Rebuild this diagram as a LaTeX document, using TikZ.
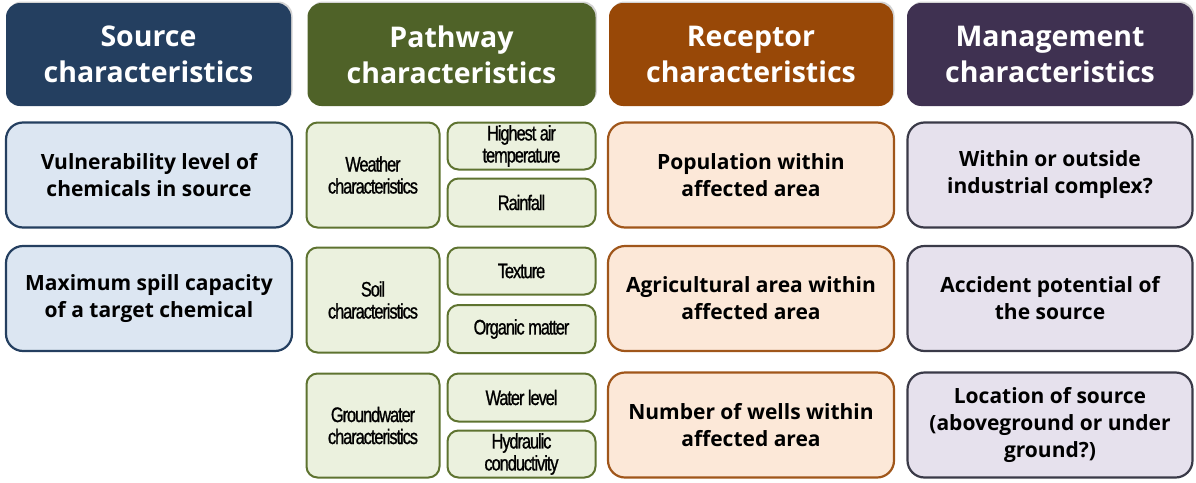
\documentclass[tikz,border=0pt]{standalone}
\usepackage{fontspec}
\setmainfont{Open Sans}
\newfontfamily\narrowfont[FakeStretch=0.78,LetterSpace=-5,FakeBold=1]{Liberation Sans}
\usetikzlibrary{shadows}
\definecolor{srcD}{HTML}{243F60}
\definecolor{srcL}{HTML}{DCE6F2}
\definecolor{pathD}{HTML}{4F6228}
\definecolor{pathB}{HTML}{5E7330}
\definecolor{pathL}{HTML}{EBF1DE}
\definecolor{recD}{HTML}{984807}
\definecolor{recB}{HTML}{A0561A}
\definecolor{recL}{HTML}{FCE8D8}
\definecolor{manD}{HTML}{3F3151}
\definecolor{manB}{HTML}{3A3A48}
\definecolor{manL}{HTML}{E6E1ED}
\tikzset{
  header/.style={rectangle, rounded corners=14pt, inner sep=0pt, align=center,
    text=white, font=\fontsize{28.5}{36}\selectfont\bfseries,
    drop shadow={shadow xshift=1.5pt, shadow yshift=1.5pt, opacity=0.35}},
  itembox/.style={rectangle, rounded corners=17pt, inner sep=0pt, align=center,
    line width=2.2pt, font=\fontsize{21}{27}\selectfont\bfseries},
  pbox/.style={rectangle, rounded corners=11pt, inner sep=0pt, align=center,
    line width=2pt, draw=pathB, fill=pathL, font=\narrowfont\fontsize{21}{22}\selectfont},
}
\begin{document}
\begin{tikzpicture}[x=1pt,y=-1pt]
\useasboundingbox (0,0) rectangle (1196,482);
% headers
\node[header, fill=srcD, minimum width=285pt, minimum height=103pt] (hs) at (148.5,54.5) {Source\\characteristics};
\node[header, fill=pathD, minimum width=288pt, minimum height=103pt] (hp) at (451.5,54.5) {Pathway\\characteristics};
\node[header, fill=recD, minimum width=284pt, minimum height=103pt] (hr) at (751,54.5) {Receptor\\characteristics};
\node[header, fill=manD, minimum width=286pt, minimum height=103pt] (hm) at (1050,54.5) {Management\\characteristics};
% source
\node[itembox, draw=srcD, fill=srcL, minimum width=286pt, minimum height=105pt] (s1) at (149,175) {Vulnerability level of\\chemicals in source};
\node[itembox, draw=srcD, fill=srcL, minimum width=286pt, minimum height=105pt] (s2) at (149,298.5) {Maximum spill capacity\\of a target chemical};
% receptor
\node[itembox, draw=recB, fill=recL, minimum width=286pt, minimum height=105pt] (r1) at (751,175) {Population within\\affected area};
\node[itembox, draw=recB, fill=recL, minimum width=286pt, minimum height=105pt] (r2) at (751,298.5) {Agricultural area within\\affected area};
\node[itembox, draw=recB, fill=recL, minimum width=286pt, minimum height=105pt] (r3) at (751,425) {Number of wells within\\affected area};
% management
\node[itembox, draw=manB, fill=manL, minimum width=285pt, minimum height=105pt] (m1) at (1050,175) {Within or outside\\industrial complex?};
\node[itembox, draw=manB, fill=manL, minimum width=285pt, minimum height=105pt] (m2) at (1050,298.5) {Accident potential of\\the source};
\node[itembox, draw=manB, fill=manL, minimum width=285pt, minimum height=105pt] (m3) at (1050,425) {Location of source\\(aboveground or under\\ground?)};
% pathway
\node[pbox, minimum width=133pt, minimum height=105pt] (pw) at (373,175) {Weather\\characteristics};
\node[pbox, minimum width=148pt, minimum height=47pt] (pw1) at (521.5,146) {Highest air\\temperature};
\node[pbox, minimum width=148pt, minimum height=48pt] (pw2) at (521.5,202.5) {Rainfall};
\node[pbox, minimum width=133pt, minimum height=105pt] (ps) at (373,300) {Soil\\characteristics};
\node[pbox, minimum width=148pt, minimum height=47pt] (ps1) at (521.5,271) {Texture};
\node[pbox, minimum width=148pt, minimum height=48pt] (ps2) at (521.5,329) {Organic matter};
\node[pbox, minimum width=133pt, minimum height=104pt] (pg) at (373,425.5) {Groundwater\\characteristics};
\node[pbox, minimum width=148pt, minimum height=48pt] (pg1) at (521.5,397.5) {Water level};
\node[pbox, minimum width=148pt, minimum height=47pt] (pg2) at (521.5,454) {Hydraulic\\conductivity};
\end{tikzpicture}
\end{document}
